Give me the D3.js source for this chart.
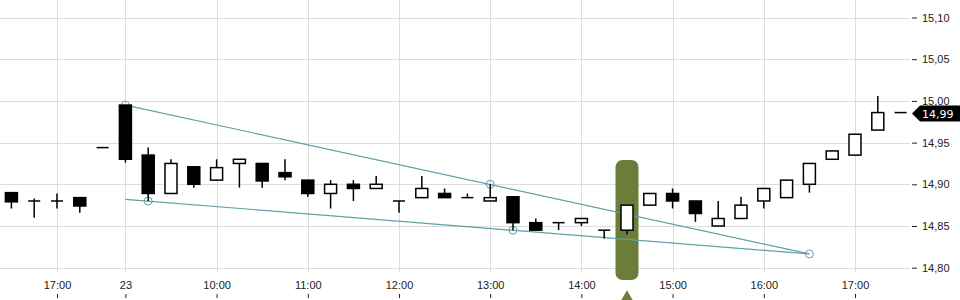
<!DOCTYPE html>
<html>
<head>
<meta charset="utf-8">
<script src="https://cdn.jsdelivr.net/npm/d3@7"></script>
<style>
  body { margin: 0; background: #fff; }
  svg { display: block; font-family: "DejaVu Sans", sans-serif; }
</style>
</head>
<body>
<div id="chart"></div>
<script>
// 15 minute candles, one slot per index (session gap is collapsed)
var opens  = [14.89, 14.88, 14.88, 14.884, 14.944, 14.995, 14.935, 14.889, 14.921, 14.905,
              14.925, 14.925, 14.914, 14.905, 14.889, 14.90, 14.895, 14.88, 14.884, 14.889,
              14.884, 14.88, 14.885, 14.854, 14.854, 14.854, 14.845, 14.845, 14.875, 14.889,
              14.88, 14.85, 14.859, 14.88, 14.884, 14.90, 14.93, 14.935, 14.965, 14.986];
var highs  = [14.89, 14.883, 14.889, 14.884, 14.944, 14.995, 14.944, 14.93, 14.921, 14.93,
              14.93, 14.925, 14.93, 14.905, 14.905, 14.905, 14.91, 14.88, 14.91, 14.895,
              14.889, 14.90, 14.885, 14.859, 14.854, 14.859, 14.845, 14.875, 14.889, 14.895,
              14.88, 14.88, 14.885, 14.895, 14.905, 14.925, 14.94, 14.96, 15.006, 14.986];
var lows   = [14.871, 14.86, 14.871, 14.866, 14.944, 14.926, 14.88, 14.889, 14.896, 14.905,
              14.896, 14.896, 14.905, 14.885, 14.871, 14.88, 14.895, 14.866, 14.884, 14.884,
              14.884, 14.88, 14.845, 14.845, 14.845, 14.85, 14.835, 14.84, 14.875, 14.871,
              14.855, 14.85, 14.859, 14.871, 14.884, 14.89, 14.93, 14.935, 14.965, 14.986];
var closes = [14.879, 14.88, 14.88, 14.874, 14.944, 14.93, 14.889, 14.925, 14.90, 14.92,
              14.93, 14.904, 14.909, 14.889, 14.90, 14.895, 14.90, 14.88, 14.895, 14.884,
              14.884, 14.884, 14.854, 14.845, 14.854, 14.859, 14.845, 14.875, 14.889, 14.88,
              14.865, 14.859, 14.875, 14.895, 14.905, 14.925, 14.94, 14.96, 14.986, 14.986];

var xTickIndex  = [2, 5, 9, 13, 17, 21, 25, 29, 33, 37];
var xTickLabels = ["17:00", "23", "10:00", "11:00", "12:00", "13:00", "14:00", "15:00", "16:00", "17:00"];
var yTicks = [14.80, 14.85, 14.90, 14.95, 15.00, 15.05, 15.10];

// drawn wedge: two lines meeting at the right anchor
var upperLine = [[5, 14.995], [35, 14.8165]];
var lowerLine = [[5, 14.882], [35, 14.8165]];
var anchors = [[5, 14.995], [6, 14.88], [21, 14.90], [22, 14.845], [35, 14.8165]];

var highlightIndex = 27;
var lastPrice = 14.986;

var width = 960, height = 300;
var green = "#6b7d38", teal = "#5fa0a6";

var svg = d3.select("#chart").append("svg")
    .attr("width", width)
    .attr("height", height);

var x = d3.scaleLinear().domain([0, 39]).range([11.4, 900.6]);
var y = d3.scaleLinear().domain([14.80, 15.10]).range([267.7, 17.5]);
var fmt = function(v){ return d3.format(".2f")(v).replace(".", ","); };

// grid
svg.append("g").selectAll("line")
    .data(yTicks).enter().append("line")
    .attr("x1", 0).attr("x2", 910)
    .attr("y1", d => Math.round(y(d)) + 0.5).attr("y2", d => Math.round(y(d)) + 0.5)
    .style("stroke", "#dcdcdc");

svg.append("g").selectAll("line")
    .data(xTickIndex).enter().append("line")
    .attr("x1", d => Math.round(x(d)) + 0.5).attr("x2", d => Math.round(x(d)) + 0.5)
    .attr("y1", 0).attr("y2", 272)
    .style("stroke", "#dcdcdc");

// right axis
var yAxis = svg.append("g")
    .attr("transform", "translate(912,0)")
    .call(d3.axisRight(y).tickValues(yTicks).tickSize(5).tickPadding(5).tickFormat(fmt));
yAxis.select(".domain").remove();
yAxis.selectAll(".tick line").style("stroke", "#222");
yAxis.selectAll("text").style("font-size", "11px").style("fill", "#222");

// bottom axis
var xAxis = svg.append("g")
    .attr("transform", "translate(0,294)")
    .call(d3.axisBottom(x).tickValues(xTickIndex).tickSize(4)
        .tickFormat((d, i) => xTickLabels[i]));
xAxis.select(".domain").remove();
xAxis.selectAll(".tick line").style("stroke", "#222");
xAxis.selectAll("text")
    .attr("y", -13)
    .style("font-size", "11px").style("fill", "#222");

// highlighted candle
svg.append("rect")
    .attr("x", x(highlightIndex) - 11.5)
    .attr("y", 160)
    .attr("width", 23)
    .attr("height", 120)
    .attr("rx", 7)
    .style("fill", green);
svg.append("path")
    .attr("d", d3.symbol(d3.symbolTriangle, 60)())
    .attr("transform", "translate(" + x(highlightIndex) + ",297)")
    .style("fill", green);

// wedge lines
var line = d3.line().x(d => x(d[0])).y(d => y(d[1]));
[upperLine, lowerLine].forEach(function(pts){
    svg.append("path")
        .attr("d", line(pts))
        .style("fill", "none")
        .style("stroke", teal)
        .style("stroke-width", 1.2);
});
svg.selectAll(".anchor")
    .data(anchors).enter().append("circle")
    .attr("class", "anchor")
    .attr("cx", d => x(d[0])).attr("cy", d => y(d[1]))
    .attr("r", 4)
    .style("fill", "none")
    .style("stroke", teal)
    .style("stroke-width", 1);

// candles
var bw = 12;
var candles = svg.append("g").selectAll("g")
    .data(opens.map((o, i) => i)).enter().append("g");

candles.append("line")
    .attr("x1", i => x(i)).attr("x2", i => x(i))
    .attr("y1", i => y(highs[i])).attr("y2", i => y(lows[i]))
    .style("stroke", "#000").style("stroke-width", 1.5);

candles.each(function(i){
    var g = d3.select(this);
    var o = opens[i], c = closes[i];
    if (Math.abs(o - c) < 0.001) {
        g.append("line")
            .attr("x1", x(i) - bw / 2).attr("x2", x(i) + bw / 2)
            .attr("y1", y(o)).attr("y2", y(o))
            .style("stroke", "#000").style("stroke-width", 1.5);
    } else {
        var up = c > o;
        g.append("rect")
            .attr("x", x(i) - bw / 2)
            .attr("y", y(Math.max(o, c)))
            .attr("width", bw)
            .attr("height", Math.abs(y(o) - y(c)))
            .style("fill", up ? "#fff" : "#000")
            .style("stroke", "#000")
            .style("stroke-width", 1.5);
    }
});

// last price tag
var ly = y(lastPrice) + 1;
svg.append("path")
    .attr("d", "M912," + ly + " L920," + (ly - 8) + " L960," + (ly - 8) + " L960," + (ly + 8) + " L920," + (ly + 8) + " Z")
    .style("fill", "#000");
svg.append("text")
    .attr("x", 922).attr("y", ly + 4)
    .style("font-size", "11px").style("fill", "#fff")
    .text(fmt(lastPrice));
</script>
</body>
</html>
